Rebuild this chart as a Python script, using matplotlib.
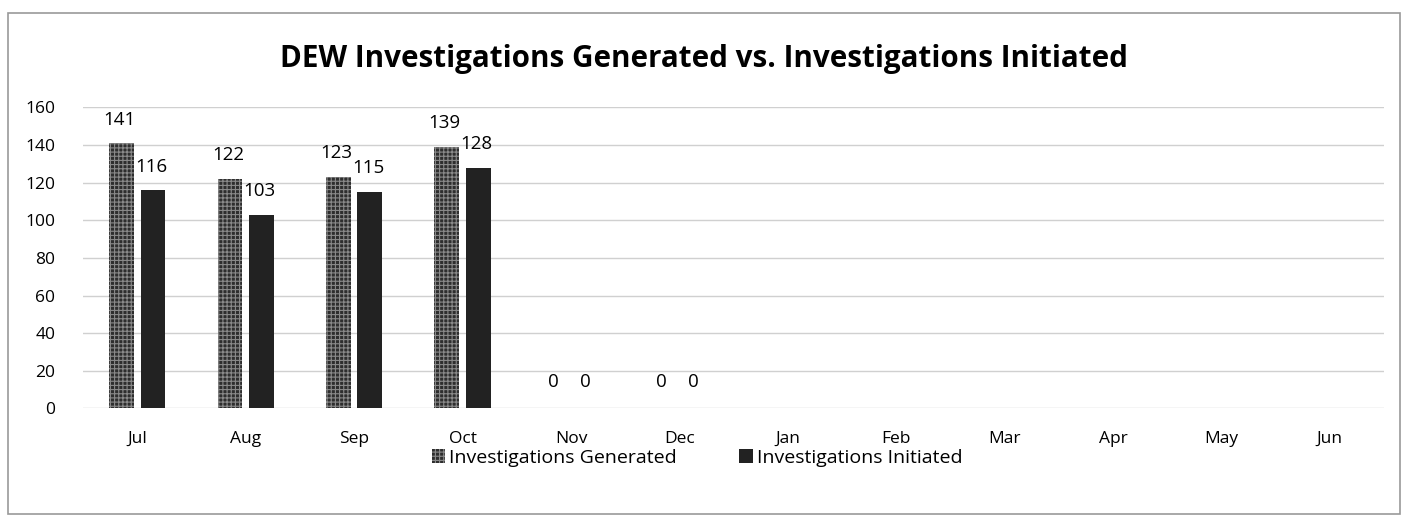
import matplotlib.pyplot as plt
import numpy as np
from matplotlib.patches import Rectangle

months = ['Jul', 'Aug', 'Sep', 'Oct', 'Nov', 'Dec', 'Jan', 'Feb', 'Mar', 'Apr', 'May', 'Jun']
generated = [141, 122, 123, 139, 0, 0]
initiated = [116, 103, 115, 128, 0, 0]

plt.rcParams['font.family'] = ['Open Sans', 'DejaVu Sans']
plt.rcParams['hatch.color'] = '#8a8a8a'
plt.rcParams['hatch.linewidth'] = 0.8

fig = plt.figure(figsize=(14.08, 5.19), dpi=100)
ax = fig.add_axes([0.059, 0.213, 0.924, 0.58])

x = np.arange(len(generated))
w = 0.23
b1 = ax.bar(x - 0.145, generated, w, color='#2e2e2e', hatch='++++',
            label='Investigations Generated')
b2 = ax.bar(x + 0.145, initiated, w, color='#222222',
            label='Investigations Initiated')

for xi, v in zip(x, generated):
    ax.annotate(str(v), (xi - 0.165, v), xytext=(0, 17 if v else 19),
                textcoords='offset points', ha='center', va='center', fontsize=13.5)
for xi, v in zip(x, initiated):
    ax.annotate(str(v), (xi + 0.13, v), xytext=(0, 17 if v else 19),
                textcoords='offset points', ha='center', va='center', fontsize=13.5)

ax.set_xlim(-0.5, len(months) - 0.5)
ax.set_ylim(0, 160)
ax.set_xticks(np.arange(len(months)))
ax.set_xticklabels(months, fontsize=12.5)
ax.set_yticks(range(0, 161, 20))
ax.tick_params(axis='y', labelsize=12.5, length=0, pad=20)
ax.tick_params(axis='x', length=0, pad=16)
ax.grid(axis='y', color='#d0d0d0', linewidth=1)
ax.set_axisbelow(True)
for s in ax.spines.values():
    s.set_visible(False)

fig.suptitle('DEW Investigations Generated vs. Investigations Initiated',
             fontsize=21.3, fontweight='bold', y=0.915)

fig.legend(handles=[b1, b2], loc='center', bbox_to_anchor=(0.495, 0.118), ncol=2,
           frameon=False, fontsize=14, handlelength=0.7, handleheight=0.7,
           handletextpad=0.2, columnspacing=3.2)

fig.patches.append(Rectangle((0.006, 0.01), 0.988, 0.965, transform=fig.transFigure,
                             fill=False, edgecolor='#999999', linewidth=1.2))

fig.savefig('out.png', dpi=100)
